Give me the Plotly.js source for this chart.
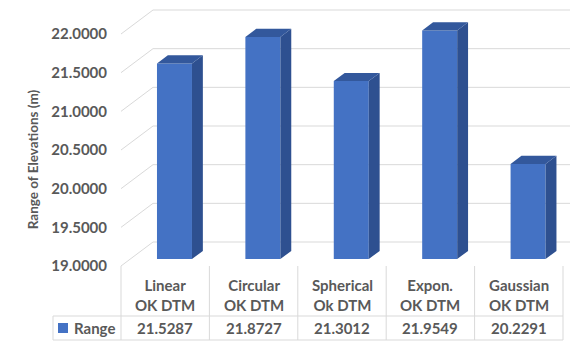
<!DOCTYPE html>
<html>
<head>
<meta charset="utf-8">
<script src="https://cdn.plot.ly/plotly-3.0.1.min.js"></script>
<style>html,body{margin:0;padding:0;background:#fff;}#chart{width:570px;height:348px;}</style>
</head>
<body>
<div id="chart"></div>
<script>
// ---- data ----
const categories = ['Linear<br>OK DTM', 'Circular<br>OK DTM', 'Spherical<br>Ok DTM', 'Expon.<br>OK DTM', 'Gaussian<br>OK DTM'];
const rangeValues = [21.5287, 21.8727, 21.3012, 21.9549, 20.2291];
const tickValues = [19, 19.5, 20, 20.5, 21, 21.5, 22];
const tickLabels = ['19.0000', '19.5000', '20.0000', '20.5000', '21.0000', '21.5000', '22.0000'];
const seriesName = 'Range';
const yTitle = 'Range of Elevations (m)';

// ---- geometry (pixel scale -> data units) ----
const W = 570, H = 348;
const PXX = 88.4, PXY = 232 / 3;          // px per x unit / per y unit
const AXIS_PX = 121, FLOOR_PX = 266;      // front-left axis x pixel, 19.0 y pixel
const xMin = -0.5 - AXIS_PX / PXX, xMax = xMin + W / PXX;
const yMin = 19 - (H - FLOOR_PX) / PXY, yMax = 19 + FLOOR_PX / PXY;
const DX = 32 / PXX, DY = 24 / PXY;       // full depth vector
const D0 = 0.29, D1 = 0.63, BW = 0.396;   // bar depth slot and width
const base = tickValues[0];
const n = categories.length;
const grey = '#595959', gridC = '#D9D9D9';
const font = {family: 'Lato, "Open Sans", sans-serif', size: 15, color: grey, weight: 'bold'};

const shapes = [];
// gridlines: diagonal from front axis to back wall, then horizontal (below traces)
tickValues.forEach(v => {
  shapes.push({type: 'path', xref: 'x', yref: 'y', layer: 'below',
    path: 'M ' + (-0.5) + ',' + v + ' L ' + (-0.5 + DX) + ',' + (v + DY) + ' L ' + xMax + ',' + (v + DY),
    line: {color: gridC, width: 1}});
});

// bars
const centers = rangeValues.map((v, i) => i + D0 * DX);
const sx = [], sy = [], tx = [], ty = [];
const dd = (D1 - D0);
rangeValues.forEach((v, i) => {
  const l = centers[i] - BW / 2, r = centers[i] + BW / 2;
  const b0 = base + D0 * DY, b1 = base + D1 * DY;
  const t0 = v + D0 * DY, t1 = v + D1 * DY;
  sx.push(r, r + dd * DX, r + dd * DX, r, null);
  sy.push(b0, b1, t1, t0, null);
  tx.push(l, l + dd * DX, r + dd * DX, r, null);
  ty.push(t0, t1, t1, t0, null);
});

const traces = [
  {type: 'bar', x: centers, y: rangeValues.map(v => v - base), base: base + D0 * DY, width: BW,
   marker: {color: '#4472C4', line: {width: 0}}, name: seriesName, showlegend: false},
  {type: 'scatter', mode: 'lines', x: sx, y: sy, fill: 'toself', fillcolor: '#2E5090', line: {width: 0, color: '#2E5090'}, showlegend: false, hoverinfo: 'skip'},
  {type: 'scatter', mode: 'lines', x: tx, y: ty, fill: 'toself', fillcolor: '#33589C', line: {width: 0, color: '#33589C'}, showlegend: false, hoverinfo: 'skip'},
  {type: 'scatter', mode: 'markers', x: [-0.5 - 58 / PXX], y: [19 - 62 / PXY], marker: {symbol: 'square', size: 10, color: '#4472C4'}, showlegend: false, hoverinfo: 'skip'}
];

// data table
const rowSep = 19 - 50 / PXY, tableBottom = 19 - 74 / PXY;
const legendLeft = -0.5 - 68 / PXX;
for (let i = 0; i <= n; i++) {
  shapes.push({type: 'line', xref: 'x', yref: 'y', x0: i - 0.5, x1: i - 0.5, y0: base, y1: tableBottom, line: {color: gridC, width: 1}});
}
shapes.push({type: 'line', xref: 'x', yref: 'y', x0: legendLeft, x1: n - 0.5, y0: rowSep, y1: rowSep, line: {color: gridC, width: 1}});
shapes.push({type: 'line', xref: 'x', yref: 'y', x0: legendLeft, x1: n - 0.5, y0: tableBottom, y1: tableBottom, line: {color: gridC, width: 1}});
shapes.push({type: 'line', xref: 'x', yref: 'y', x0: legendLeft, x1: legendLeft, y0: rowSep, y1: tableBottom, line: {color: gridC, width: 1}});

const annotations = [];
categories.forEach((c, i) => {
  annotations.push({xref: 'x', yref: 'y', x: i, y: 19 - 29 / PXY, text: c, showarrow: false, font: font, align: 'center'});
  annotations.push({xref: 'x', yref: 'y', x: i, y: 19 - 62 / PXY, text: rangeValues[i].toFixed(4), showarrow: false, font: font});
});
annotations.push({xref: 'x', yref: 'y', x: -0.5 - 27 / PXX, y: 19 - 62 / PXY, text: seriesName, showarrow: false, font: font});
annotations.push({xref: 'x', yref: 'y', x: -0.5 - 88 / PXX, y: 20.38, text: yTitle, textangle: -90, showarrow: false,
  font: {family: font.family, size: 13.5, color: grey, weight: 'bold'}});

const layout = {
  width: W, height: H,
  margin: {l: 0, r: 0, t: 0, b: 0, pad: 0},
  paper_bgcolor: '#ffffff', plot_bgcolor: 'rgba(0,0,0,0)',
  showlegend: false, hovermode: false,
  xaxis: {range: [xMin, xMax], visible: false, fixedrange: true},
  yaxis: {range: [yMin, yMax], anchor: 'free', position: AXIS_PX / W, side: 'left',
          tickvals: tickValues, ticktext: tickLabels, showgrid: false, zeroline: false, showline: false,
          ticks: '', ticklabelstandoff: 14, tickfont: font, fixedrange: true},
  shapes: shapes,
  annotations: annotations
};

Plotly.newPlot('chart', traces, layout, {displayModeBar: false, staticPlot: true});
</script>
</body>
</html>
